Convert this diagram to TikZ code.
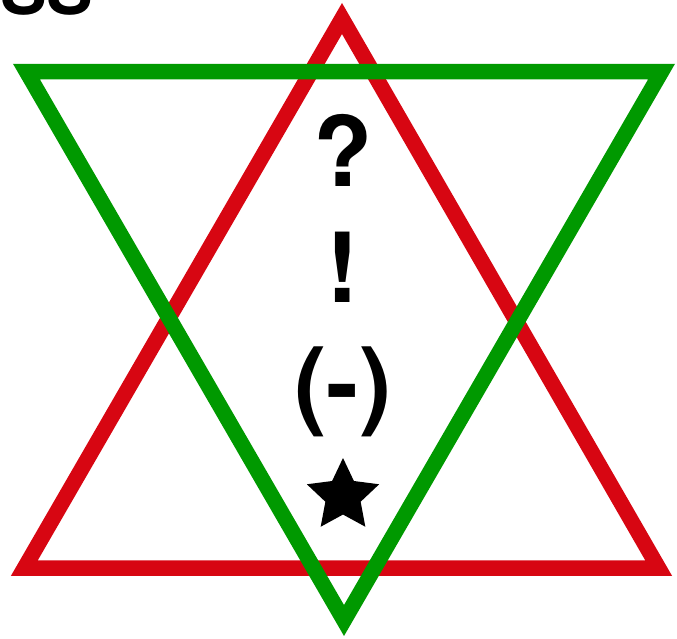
\documentclass[tikz,border=0pt]{standalone}
\usepackage{fontspec}
\setmainfont{TeX Gyre Heros}
\usetikzlibrary{shapes.geometric}
\definecolor{starred}{RGB}{215,6,18}
\definecolor{stargreen}{RGB}{0,153,0}
\tikzset{
  tri/.style={line width=15.5pt, line join=miter},
  sym/.style={anchor=base, inner sep=0pt, font=\fontsize{97}{97}\selectfont\bfseries},
}
\begin{document}
\begin{tikzpicture}[x=1pt,y=-1pt]
\useasboundingbox (0,0) rectangle (677,638);
\begin{scope}
\clip (0,0) rectangle (677,638);
\node[anchor=base west, inner sep=0pt, font=\fontsize{70}{70}\selectfont\bfseries] (title) at (0,14) {SS};
\end{scope}
\coordinate (r1) at (342,18.5);
\coordinate (r2) at (24.4,568);
\coordinate (r3) at (658.6,568);
\coordinate (g1) at (26.4,71.5);
\coordinate (g2) at (661.6,71.5);
\coordinate (g3) at (344,620.5);
\draw[tri, starred] (r1) -- (r2) -- (r3) -- cycle;
\draw[tri, stargreen] (g1) -- (g2) -- (g3) -- cycle;
\node[sym] (q) at (343,186) {?};
\node[sym] (ex) at (343,302) {!};
\node[sym] (par) at (343,417) {(-)};
\node[star, star points=5, star point ratio=2.05, minimum size=76pt, inner sep=0pt, fill=black] (st) at (343,496) {};
\end{tikzpicture}
\end{document}
